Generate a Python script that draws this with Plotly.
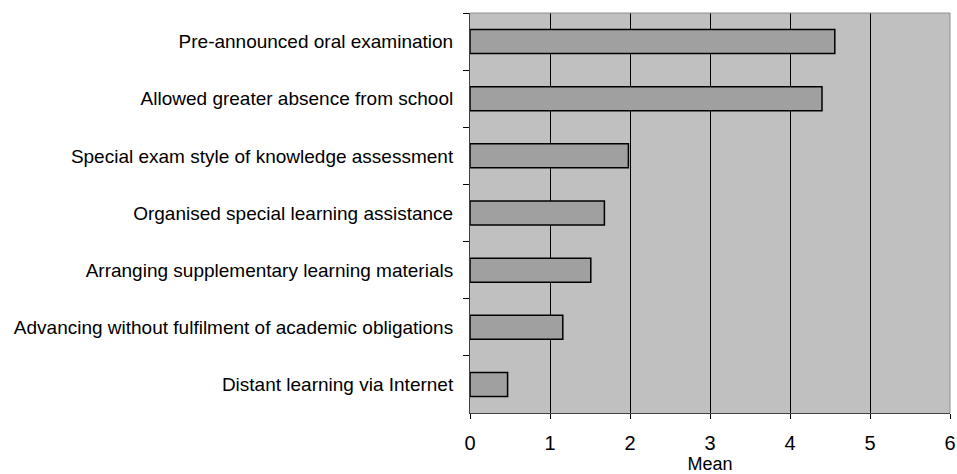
import plotly.graph_objects as go

categories = [
    "Pre-announced oral examination",
    "Allowed greater absence from school",
    "Special exam style of knowledge assessment",
    "Organised special learning assistance",
    "Arranging supplementary learning materials",
    "Advancing without fulfilment of academic obligations",
    "Distant learning via Internet",
]
means = [4.56, 4.40, 1.98, 1.68, 1.51, 1.16, 0.47]
x_ticks = [0, 1, 2, 3, 4, 5, 6]

fig = go.Figure(
    go.Bar(
        x=means,
        y=categories,
        orientation="h",
        width=0.42,
        marker=dict(color="#a0a0a0", line=dict(color="#000000", width=1.5)),
    )
)

fig.update_layout(
    width=957,
    height=474,
    margin=dict(l=470, r=7, t=13, b=61),
    paper_bgcolor="white",
    plot_bgcolor="#c0c0c0",
    showlegend=False,
    font=dict(family="Liberation Sans, Arial, sans-serif", color="#000000"),
)

fig.update_xaxes(
    range=[0, 6],
    tickvals=x_ticks,
    ticks="outside",
    ticklen=5,
    tickcolor="#000000",
    tickfont=dict(size=20),
    ticklabelstandoff=7,
    showgrid=True,
    gridcolor="#000000",
    gridwidth=1,
    showline=True,
    linecolor="#404040",
    linewidth=1,
    mirror=False,
    zeroline=False,
    automargin=False,
    title=dict(text="Mean", font=dict(size=18), standoff=23),
)

fig.update_yaxes(
    autorange="reversed",
    ticks="outside",
    tickson="boundaries",
    ticklen=6,
    tickcolor="#000000",
    tickfont=dict(size=19),
    ticklabelstandoff=12,
    showgrid=False,
    showline=True,
    linecolor="#404040",
    linewidth=1,
    automargin=False,
)

# gray frame on top and right
fig.add_shape(type="line", xref="paper", yref="paper", x0=0, x1=1, y0=1, y1=1,
              line=dict(color="#909090", width=1))
fig.add_shape(type="line", xref="paper", yref="paper", x0=1, x1=1, y0=0, y1=1,
              line=dict(color="#909090", width=1))

fig.write_html(
    "out.html",
    config={"displayModeBar": False},
    post_script="document.body.style.margin='0';document.body.style.overflow='hidden';",
)
